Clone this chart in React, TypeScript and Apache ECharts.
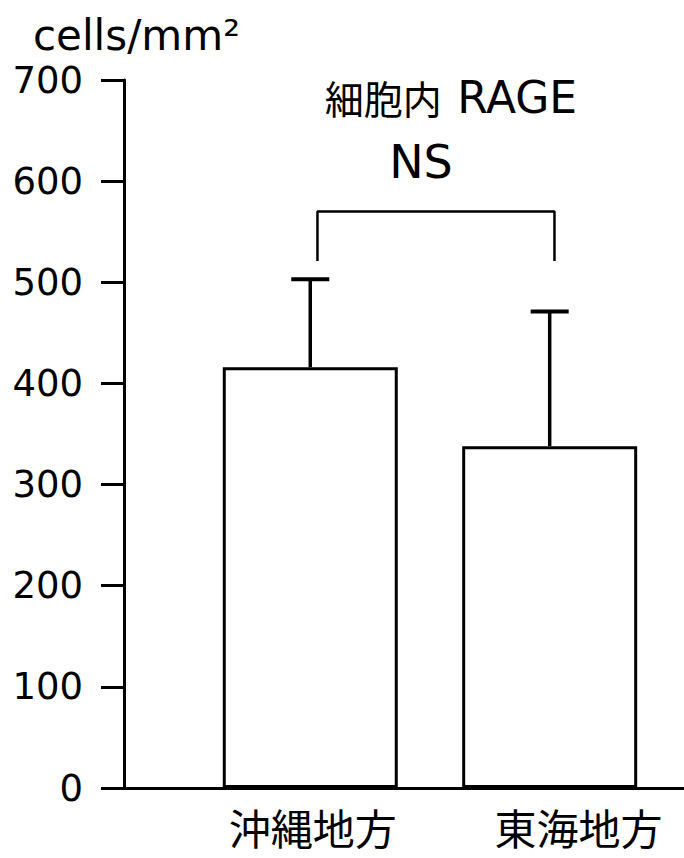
import React, { useEffect, useRef } from "react";
import * as echarts from "echarts";

const categories = ["沖縄地方", "東海地方"];
const categoryPos = [1, 2];
const labelPos = [1.01, 2.12];
const means = [416, 338];
const sds = [87, 133];
const bracketX = [1.03, 2.02];
const bracketTop = 570;
const bracketBottom = 521;
const yMin = 0;
const yMax = 700;
const yStep = 100;
const titleCJK = "細胞内";
const titleLatin = "RAGE";
const sigText = "NS";
const unitText = "cells/mm²";

const LATIN = "'DejaVu Sans', 'Liberation Sans', sans-serif";
const CJK = "'Noto Sans CJK JP', 'Noto Sans CJK SC', sans-serif";

export default function App() {
  const ref = useRef<HTMLDivElement>(null);
  useEffect(() => {
    document.body.style.margin = "0";
    document.body.style.background = "#fff";
    const chart = echarts.init(ref.current!, null, { renderer: "svg" });
    const barData = categoryPos.map((x, i) => [x, means[i]]);
    const errData = categoryPos.map((x, i) => [x, means[i], sds[i]]);
    const bracketData = [
      [bracketX[0], bracketBottom],
      [bracketX[0], bracketTop],
      [bracketX[1], bracketTop],
      [bracketX[1], bracketBottom],
    ];
    chart.setOption({
      animation: false,
      backgroundColor: "#fff",
      grid: { left: 124, right: 0, top: 80, bottom: 70, containLabel: false },
      xAxis: {
        type: "value",
        min: 0.222,
        max: 2.561,
        axisLine: { show: true, onZero: false, lineStyle: { color: "#000", width: 3 } },
        axisTick: { show: false },
        splitLine: { show: false },
        axisLabel: {
          customValues: labelPos,
          margin: 17,
          color: "#000",
          fontFamily: CJK,
          fontSize: 42,
          lineHeight: 42,
          formatter: (v: number) => {
            let best = 0;
            labelPos.forEach((p, i) => {
              if (Math.abs(p - v) < Math.abs(labelPos[best] - v)) best = i;
            });
            return categories[best];
          },
        },
      },
      yAxis: {
        type: "value",
        min: yMin,
        max: yMax,
        interval: yStep,
        axisLine: { show: true, onZero: false, lineStyle: { color: "#000", width: 3 } },
        axisTick: { show: true, inside: false, length: 23, lineStyle: { color: "#000", width: 3 } },
        splitLine: { show: false },
        axisLabel: { margin: 41, color: "#000", fontFamily: LATIN, fontSize: 37 },
      },
      graphic: [
        {
          type: "text",
          left: 33,
          top: 14,
          style: { text: unitText, font: `42px ${LATIN}`, fill: "#000" },
        },
        {
          type: "text",
          x: 451,
          y: 97,
          style: {
            text: `{a|${titleCJK}} {b|${titleLatin}}`,
            fill: "#000",
            textAlign: "center",
            textVerticalAlign: "middle",
            rich: {
              a: { fontFamily: CJK, fontSize: 39, fill: "#000", padding: [0, 12, 0, 0] },
              b: { fontFamily: LATIN, fontSize: 44, fill: "#000" },
            },
          },
        },
        {
          type: "text",
          x: 421,
          y: 162,
          style: {
            text: sigText,
            font: `46px ${LATIN}`,
            fill: "#000",
            textAlign: "center",
            textVerticalAlign: "middle",
          },
        },
      ],
      series: [
        {
          type: "bar",
          data: barData,
          barWidth: 175,
          itemStyle: { color: "#fff", borderColor: "#000", borderWidth: 3 },
          z: 2,
        },
        {
          type: "custom",
          data: errData,
          z: 3,
          renderItem: (params: any, api: any) => {
            const x = api.value(0);
            const m = api.value(1);
            const sd = api.value(2);
            const base = api.coord([x, m]);
            const top = api.coord([x, m + sd]);
            return {
              type: "group",
              children: [
                {
                  type: "line",
                  shape: { x1: base[0], y1: base[1], x2: top[0], y2: top[1] },
                  style: { stroke: "#000", lineWidth: 3.5 },
                },
                {
                  type: "line",
                  shape: { x1: top[0] - 19, y1: top[1], x2: top[0] + 19, y2: top[1] },
                  style: { stroke: "#000", lineWidth: 4 },
                },
              ],
            };
          },
        },
        {
          type: "line",
          data: bracketData,
          symbol: "none",
          lineStyle: { color: "#000", width: 2.5 },
          z: 3,
        },
      ],
    });
    return () => chart.dispose();
  }, []);
  return <div ref={ref} style={{ width: 684, height: 858 }} />;
}
